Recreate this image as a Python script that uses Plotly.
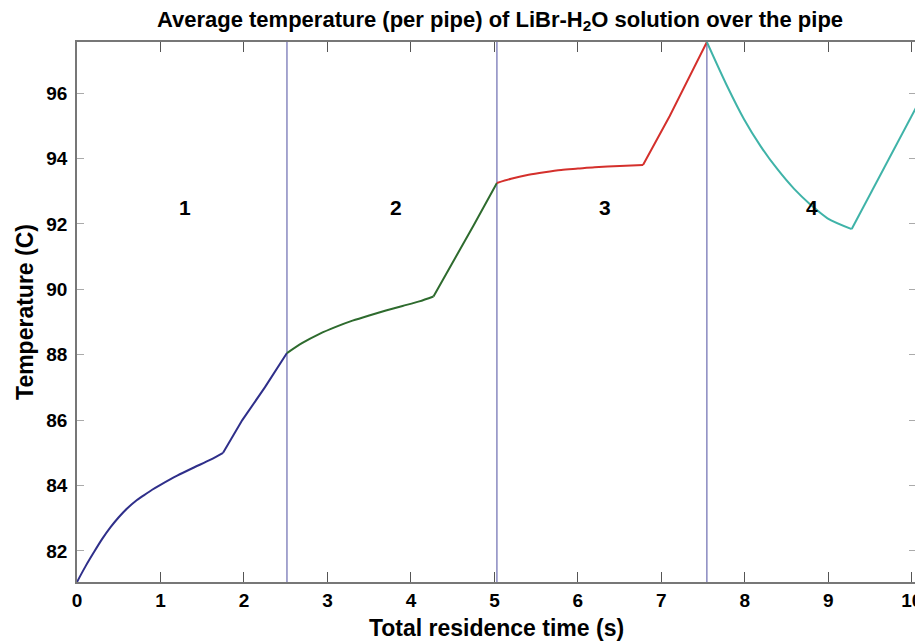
import plotly.graph_objects as go

# Data (each pipe: curved part, then linear part after the kink)
seg1_x = [0.0, 0.1, 0.2, 0.3, 0.4, 0.5, 0.6, 0.7, 0.8, 0.9, 1.0, 1.2, 1.4, 1.6, 1.75, 1.98, 2.25, 2.515]
seg1_y = [81.05, 81.52, 81.95, 82.36, 82.72, 83.03, 83.3, 83.52, 83.7, 83.87, 84.02, 84.3, 84.55, 84.79, 85.0, 86.0, 87.0, 88.05]
seg1_kink = 14

seg2_x = [2.515, 2.7, 2.9, 3.1, 3.3, 3.5, 3.7, 3.9, 4.1, 4.27, 4.5, 4.75, 5.03]
seg2_y = [88.05, 88.36, 88.63, 88.85, 89.04, 89.2, 89.35, 89.49, 89.63, 89.78, 90.8, 91.95, 93.25]
seg2_kink = 9

seg3_x = [5.03, 5.2, 5.41, 5.6, 5.8, 6.0, 6.2, 6.5, 6.78, 7.1, 7.545]
seg3_y = [93.25, 93.38, 93.5, 93.58, 93.65, 93.69, 93.73, 93.77, 93.8, 95.3, 97.56]
seg3_kink = 8

seg4_x = [7.545, 7.79, 7.99, 8.19, 8.39, 8.59, 8.79, 8.99, 9.28, 9.6, 10.05]
seg4_y = [97.56, 96.2, 95.2, 94.37, 93.67, 93.07, 92.58, 92.17, 91.84, 93.4, 95.55]
seg4_kink = 8

boundaries = [2.515, 5.03, 7.545]
zone_labels = ["1", "2", "3", "4"]
zone_label_x = [1.29, 3.82, 6.32, 8.81]
zone_label_y = 92.5

x_ticks = list(range(0, 11))
y_ticks = [82, 84, 86, 88, 90, 92, 94, 96]

colors = ["#2f2f8a", "#2e6b2e", "#d4302c", "#3fb3a8"]
FONT = "Liberation Sans, Arial, sans-serif"

# The page body has an 8px margin, so the figure is sized/offset to compensate.
W, H = 915, 634

fig = go.Figure()
for xs, ys, k, c in zip([seg1_x, seg2_x, seg3_x, seg4_x],
                        [seg1_y, seg2_y, seg3_y, seg4_y],
                        [seg1_kink, seg2_kink, seg3_kink, seg4_kink], colors):
    fig.add_trace(go.Scatter(x=xs[:k + 1], y=ys[:k + 1], mode="lines",
                             line=dict(color=c, width=2, shape="spline", smoothing=0.8),
                             showlegend=False))
    fig.add_trace(go.Scatter(x=xs[k:], y=ys[k:], mode="lines",
                             line=dict(color=c, width=2), showlegend=False))

for b in boundaries:
    fig.add_shape(type="line", x0=b, x1=b, y0=0, y1=1, xref="x", yref="paper",
                  line=dict(color="#6b6bb0", width=1.2), layer="below")

for lbl, lx in zip(zone_labels, zone_label_x):
    fig.add_annotation(x=lx, y=zone_label_y, text="<b>%s</b>" % lbl, showarrow=False,
                       font=dict(family=FONT, size=21, color="black"))

fig.update_layout(
    width=W, height=H,
    paper_bgcolor="white", plot_bgcolor="white",
    margin=dict(l=69, r=7, t=34, b=60, autoexpand=False),
    title=dict(text="<b>Average temperature (per pipe) of LiBr-H<sub>2</sub>O solution over the pipe</b>",
               x=492 / W, xanchor="center", y=1 - 11 / H, yanchor="middle",
               font=dict(family=FONT, size=22, color="black")),
    font=dict(family=FONT, color="black"),
)
fig.update_xaxes(range=[0, 10.05], tickvals=x_ticks,
                 ticktext=["<b>%d</b>" % v for v in x_ticks],
                 ticks="inside", ticklen=10, tickcolor="#555555",
                 showline=True, linecolor="#777777", linewidth=1.5, mirror="ticks",
                 showgrid=False, zeroline=False, automargin=False,
                 tickfont=dict(family=FONT, size=19, color="black"),
                 title=dict(text="<b>Total residence time (s)</b>", standoff=10,
                            font=dict(family=FONT, size=23, color="black")))
fig.update_yaxes(range=[81.05, 97.56], tickvals=y_ticks,
                 ticktext=["<b>%d</b>" % v for v in y_ticks],
                 ticks="inside", ticklen=7, tickcolor="#aaaaaa",
                 showline=True, linecolor="#777777", linewidth=1.5, mirror="ticks",
                 showgrid=False, zeroline=False, automargin=False,
                 ticklabelstandoff=4,
                 tickfont=dict(family=FONT, size=19, color="black"),
                 title=dict(text="<b>Temperature (C)</b>", standoff=6,
                            font=dict(family=FONT, size=23, color="black")))

fig.write_html("out.html")
